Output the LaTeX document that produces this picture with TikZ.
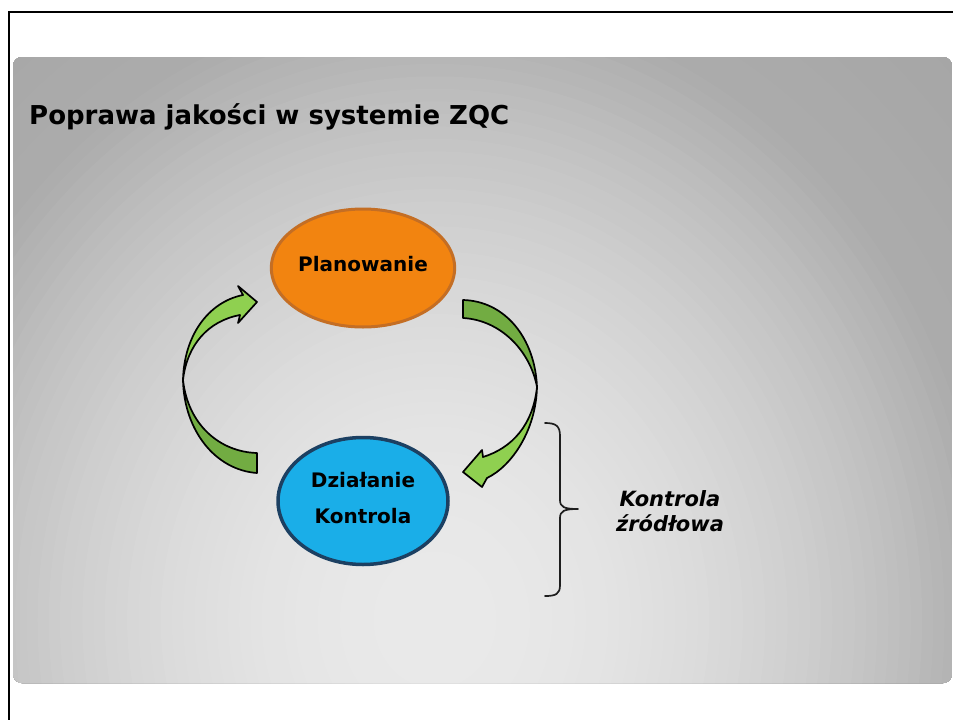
\documentclass[tikz,border=0pt]{standalone}
\usepackage{fontspec}
\setmainfont{DejaVu Sans}
\usetikzlibrary{shapes.geometric}

\definecolor{planfill}{RGB}{242,132,16}
\definecolor{planedge}{RGB}{196,110,36}
\definecolor{actfill}{RGB}{26,174,232}
\definecolor{actedge}{RGB}{28,64,98}
\definecolor{leaflight}{RGB}{143,208,80}
\definecolor{leafdark}{RGB}{114,172,66}
\definecolor{bracecol}{RGB}{30,30,30}

\tikzset{
  stage/.style={ellipse, minimum width=170pt,
    font=\fontsize{20}{36}\selectfont\bfseries, inner sep=0pt},
  cyclearrow/.style={draw=black, line width=1.7pt, line join=round},
  bracket/.style={draw=bracecol, line width=1.7pt, line cap=round}
}

\begin{document}
\begin{tikzpicture}[x=1pt,y=-1pt]
\useasboundingbox (0,0) rectangle (953,720);
\fill[white] (0,0) rectangle (953,720);

% slide frame
\draw[line width=2.4pt] (9,730) -- (9,12) -- (960,12);

% grey panel: stacked ellipses give a soft radial glow near the bottom
\begin{scope}
  \clip[rounded corners=9pt] (13,57) rectangle (952,683);
  \foreach \i in {0,...,72} {
    \pgfmathsetmacro{\dd}{1.45-0.02*\i}
    \pgfmathtruncatemacro{\gv}{\dd>1 ? 172-18*(\dd-1) : 234-62*(\dd)^2}
    \fill[fill={rgb,255:red,\gv;green,\gv;blue,\gv}]
      (435,620) ellipse [x radius=560*\dd, y radius=625*\dd];
  }
\end{scope}

% title
\node[anchor=base west, inner sep=0pt, font=\fontsize{26}{31}\selectfont\bfseries]
  (title) at (29,124) {Poprawa jakości w systemie ZQC};

% the two stages
\node[stage, fill=planfill, draw=planedge, line width=3pt, minimum height=118pt,
      text height=7pt, text depth=0pt] (plan) at (363,268) {Planowanie};
\node[stage, fill=actfill, draw=actedge, line width=3.5pt, minimum height=127pt]
  (act) at (363,501) {};
\node[font=\fontsize{20}{36}\selectfont\bfseries, align=center, inner sep=0pt]
  (actlabel) at (act.center) [yshift=3pt] {Działanie\\Kontrola};

% left curved arrow: back face, then front face with head
\fill[leafdark, cyclearrow]
  (183,380) .. controls (184,430) and (215,470) .. (257,473)
  -- (257,453) .. controls (220,452) and (188,425) .. (183,380) -- cycle;
\fill[leaflight, cyclearrow]
  (183,380) .. controls (184,336) and (208,302) .. (243,295)
  -- (238,286) -- (257,302) -- (238,323) -- (240,315)
  .. controls (208,321) and (187,345) .. (183,380) -- cycle;

% right curved arrow: back face, then front face with head
\fill[leafdark, cyclearrow]
  (463,300) .. controls (505,301) and (535,338) .. (537,387)
  .. controls (530,350) and (500,320) .. (463,318) -- cycle;
\fill[leaflight, cyclearrow]
  (537,387) .. controls (536,430) and (512,466) .. (487,478)
  -- (482,487) -- (463,472) -- (482,450) -- (483,457)
  .. controls (512,448) and (533,425) .. (537,387) -- cycle;

% brace and its label
\coordinate (bt) at (545,423);
\coordinate (bm) at (578,509);
\coordinate (bb) at (545,596);
\draw[bracket] (bt) .. controls (556,423) and (560,426) .. (560,436)
  -- (560,500) .. controls (560,507) and (564,509) .. (bm)
  (bm) .. controls (564,509) and (560,511) .. (560,518)
  -- (560,585) .. controls (560,594) and (556,596) .. (bb);
\node[font=\fontsize{21}{24.5}\selectfont\bfseries\itshape, align=center,
      inner sep=0pt] (src) at (670,511) {Kontrola\\źródłowa};
\end{tikzpicture}
\end{document}
